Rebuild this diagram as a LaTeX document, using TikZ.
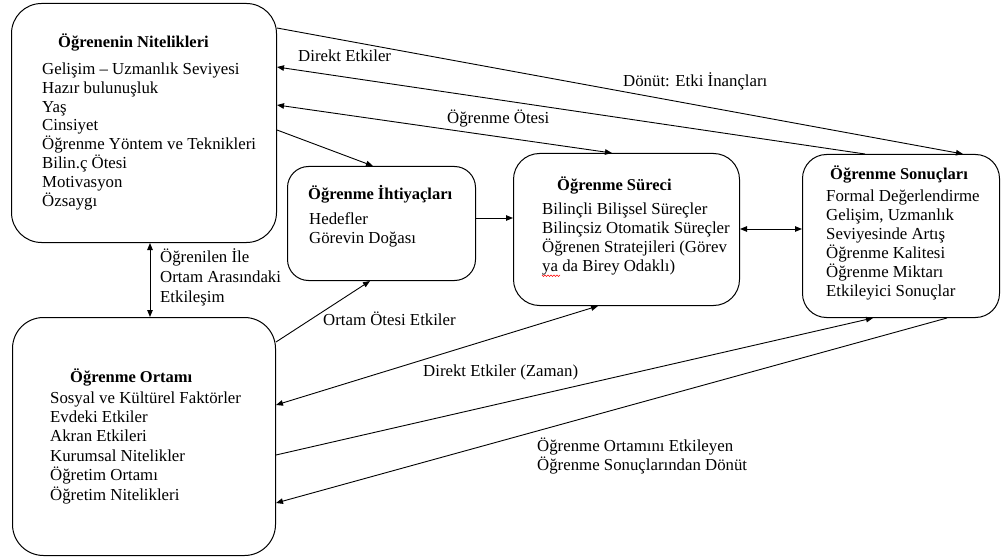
\documentclass[tikz,border=0pt]{standalone}
\usepackage{fontspec}
\setmainfont{Liberation Serif}
\usetikzlibrary{arrows.meta}
\begin{document}
\begin{tikzpicture}[x=1pt,y=-1pt,
  box/.style={draw, line width=1pt, rounded corners=#1, inner sep=0pt, anchor=north west},
  conn/.style={line width=0.9pt, -{Triangle[length=7pt,width=5.5pt]}},
  bconn/.style={line width=0.9pt, {Triangle[length=7pt,width=5.5pt]}-{Triangle[length=7pt,width=5.5pt]}},
  ttl/.style={anchor=base west, inner sep=0pt, font=\fontsize{16.5}{19}\selectfont\bfseries},
  txt/.style={anchor=base west, inner sep=0pt, align=left, font=\fontsize{16.8}{19}\selectfont},
  lbl/.style={anchor=base west, inner sep=0pt, align=left, font=\fontsize{16.8}{19.5}\selectfont},
]
\useasboundingbox (0,0) rectangle (1002,559);

% boxes
\node[box=30pt, minimum width=265pt, minimum height=239pt] (A) at (11,3) {};
\node[box=21pt, minimum width=188pt, minimum height=114pt] (B) at (287,166) {};
\node[box=26pt, minimum width=226pt, minimum height=152pt] (C) at (513,153) {};
\node[box=24pt, minimum width=197pt, minimum height=163pt] (D) at (802,154) {};
\node[box=31pt, minimum width=263pt, minimum height=238pt] (E) at (12,317) {};

% box texts (multi-line nodes: base = baseline of last line)
\node[ttl] (At) at (58,48) {Öğrenenin Nitelikleri};
\node[txt] (Ab) at (42,207) {Gelişim – Uzmanlık Seviyesi\\Hazır bulunuşluk\\Yaş\\Cinsiyet\\Öğrenme Yöntem ve Teknikleri\\Bilin.ç Ötesi\\Motivasyon\\Özsaygı};

\node[ttl] (Bt) at (308,200) {Öğrenme İhtiyaçları};
\node[txt] (Bb) at (309,243) {Hedefler\\Görevin Doğası};

\node[ttl] (Ct) at (557,191) {Öğrenme Süreci};
\node[txt] (Cb) at (542,271) {Bilinçli Bilişsel Süreçler\\Bilinçsiz Otomatik Süreçler\\Öğrenen Stratejileri (Görev\\ya da Birey Odaklı)};
\draw[red, line width=0.6pt] (542,275) -- (543.5,276.5) -- (545,275) -- (546.5,276.5) -- (548,275) -- (549.5,276.5) -- (551,275) -- (552.5,276.5) -- (554,275) -- (555.5,276.5) -- (557,275) -- (558.5,276.5) -- (560,275);

\node[ttl] (Dt) at (830,179) {Öğrenme Sonuçları};
\node[txt] (Db) at (826,296) {Formal Değerlendirme\\Gelişim, Uzmanlık\\Seviyesinde Artış\\Öğrenme Kalitesi\\Öğrenme Miktarı\\Etkileyici Sonuçlar};

\node[ttl] (Et) at (70,382) {Öğrenme Ortamı};
\node[txt, font=\fontsize{16.8}{19.4}\selectfont] (Eb) at (50,500) {Sosyal ve Kültürel Faktörler\\Evdeki Etkiler\\Akran Etkileri\\Kurumsal Nitelikler\\Öğretim Ortamı\\Öğretim Nitelikleri};

% connectors
\draw[conn] (A.east |- 0,28) -- (D.north -| 963,0);
\draw[conn] (D.north -| 865,0) -- (A.east |- 0,67);
\draw[bconn] (A.east |- 0,105) -- (C.north -| 612,0);
\draw[conn] (A.east |- 0,130) -- (B.north -| 373,0);
\draw[conn] (B.east |- 0,218) -- (C.west |- 0,218);
\draw[bconn] (C.east |- 0,229) -- (D.west |- 0,229);
\draw[bconn] (A.south -| 150,0) -- (E.north -| 150,0);
\draw[conn] (E.east |- 0,342) -- (B.south -| 370,0);
\draw[bconn] (C.south -| 598,0) -- (E.east |- 0,405);
\draw[conn] (E.east |- 0,455) -- (D.south -| 873,0);
\draw[conn] (D.south -| 947,0) -- (E.east |- 0,503);

% connector labels
\node[lbl] (L1) at (623,87) {Dönüt: Etki İnançları};
\node[lbl] (L2) at (298,62) {Direkt Etkiler};
\node[lbl] (L3) at (447,124) {Öğrenme Ötesi};
\node[lbl, font=\fontsize{16.8}{20}\selectfont] (L7) at (160,302) {Öğrenilen İle\\Ortam Arasındaki\\Etkileşim};
\node[lbl] (L8) at (323,325) {Ortam Ötesi Etkiler};
\node[lbl] (L9) at (423,376) {Direkt Etkiler (Zaman)};
\node[lbl] (L11) at (537,470.5) {Öğrenme Ortamını Etkileyen\\Öğrenme Sonuçlarından Dönüt};
\end{tikzpicture}
\end{document}
